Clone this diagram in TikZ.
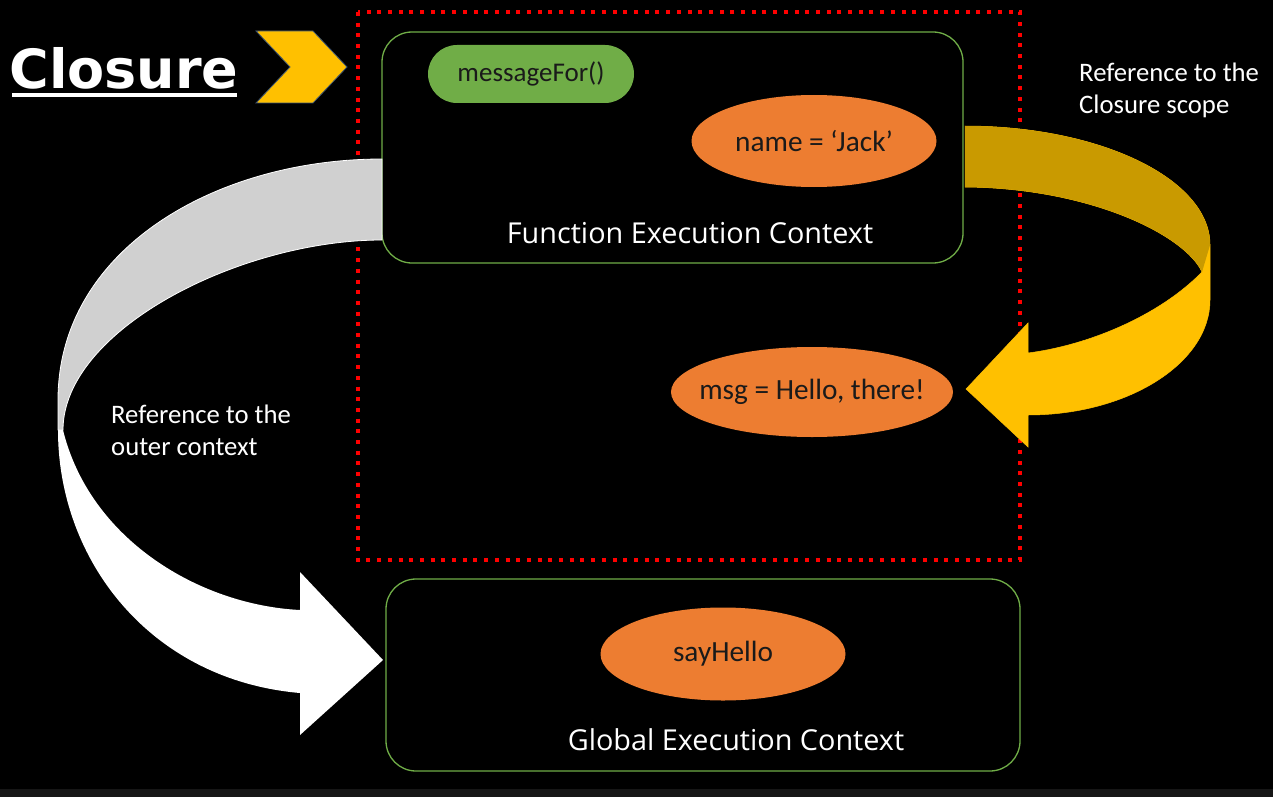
\documentclass[tikz,border=0pt]{standalone}
\usepackage{fontspec}
\setmainfont{Carlito}
\newfontfamily\titlefont{DejaVu Sans}
\newfontfamily\ctxfont{Open Sans}
\usetikzlibrary{shapes.geometric}
\definecolor{cOrange}{HTML}{ED7D31}
\definecolor{cGreen}{HTML}{70AD47}
\definecolor{cYellow}{HTML}{FFC000}
\definecolor{cDarkYellow}{HTML}{C99A00}
\definecolor{cGray}{HTML}{D0D0D0}
\definecolor{cInk}{HTML}{1A1A1A}
\definecolor{cSlate}{HTML}{3A5270}
\definecolor{cStrip}{HTML}{161616}
\tikzset{
	ctxbox/.style={rectangle, draw=cGreen, line width=1.3pt, rounded corners=30pt, inner sep=0pt},
	ctxlabel/.style={text=white, font=\ctxfont\fontsize{28.8}{33}\selectfont},
	varshape/.style={ellipse, fill=cOrange, text=cInk, inner sep=0pt, font=\fontsize{29.3}{34}\selectfont},
	funshape/.style={rectangle, rounded corners=29pt, fill=cGreen, text=cInk, inner sep=0pt, font=\fontsize{27}{32}\selectfont},
	note/.style={text=white, align=left, anchor=west, inner sep=0pt, font=\fontsize{26.7}{32}\selectfont}
}
\begin{document}
\begin{tikzpicture}[x=1pt,y=-1pt]
	\useasboundingbox[fill=black] (0,0) rectangle (1273,797);
	\fill[cStrip] (0,789) rectangle (1273,797);
	% title and chevron
	\node (title) at (124,68) [text=white, inner sep=0pt, font=\titlefont\bfseries\fontsize{54}{60}\selectfont] {Closure};
	\draw[white, line width=4pt] (12,95) -- (237,95);
	\filldraw[fill=cYellow, draw=cSlate, line width=0.8pt] (256,31) -- (313,31) -- (347,67) -- (313,103) -- (256,103) -- (290,67) -- cycle;
	% closure scope
	\draw[red, line width=4pt, dash pattern=on 4pt off 6.7pt] (358,12) rectangle (1020,560);
	\node (fec) at (672.5,147.5) [ctxbox, minimum width=581pt, minimum height=231pt] {};
	\node (fectxt) at (690,233) [ctxlabel] {Function Execution Context};
	\node (msgfor) at (531,74) [funshape, minimum width=206pt, minimum height=58pt] {messageFor()};
	\node (name) at (814,141) [varshape, minimum width=245pt, minimum height=92pt] {name = ‘Jack’};
	\node (msg) at (812,392) [varshape, inner xsep=-20pt, minimum width=282pt, minimum height=90pt] {msg = Hello, there!};
	% global context
	\node (gec) at (703,675) [ctxbox, minimum width=634pt, minimum height=192pt] {};
	\node (gectxt) at (736,740) [ctxlabel] {Global Execution Context};
	\node (hello) at (723,654) [varshape, minimum width=245pt, minimum height=93pt] {sayHello};
	% yellow ribbon arrow
	\filldraw[fill=cYellow, draw=cYellow, line width=0.5pt] (965,126) .. controls (1100,126) and (1210,179) .. (1210,245)
		-- (1210,300) .. controls (1210,363) and (1128,415) .. (1028,415)
		-- (1028,447) -- (966,389) -- (1028,323) -- (1028,353)
		.. controls (1090,345) and (1160,315) .. (1202,272)
		.. controls (1185,235) and (1090,188) .. (965,187) -- cycle;
	\fill[cDarkYellow] (965,126) .. controls (1100,126) and (1210,179) .. (1210,245)
		-- (1202,272) .. controls (1185,235) and (1090,188) .. (965,187) -- cycle;
	\node (closurenote) at (1079,90) [note] {Reference to the\\Closure scope};
	% white ribbon arrow
	\filldraw[fill=cGray, draw=white, line width=0.8pt] (382,159) .. controls (215,159) and (58,250) .. (58,400)
		-- (58,430) -- (63,430) .. controls (63,330) and (240,240) .. (382,240) -- cycle;
	\fill[white] (63,430) .. controls (90,540) and (200,605) .. (300,610)
		-- (300,572) -- (383,660) -- (300,735) -- (300,693)
		.. controls (150,680) and (58,560) .. (58,430) -- cycle;
	\node (outernote) at (111,430) [note] {Reference to the\\outer context};
\end{tikzpicture}
\end{document}
